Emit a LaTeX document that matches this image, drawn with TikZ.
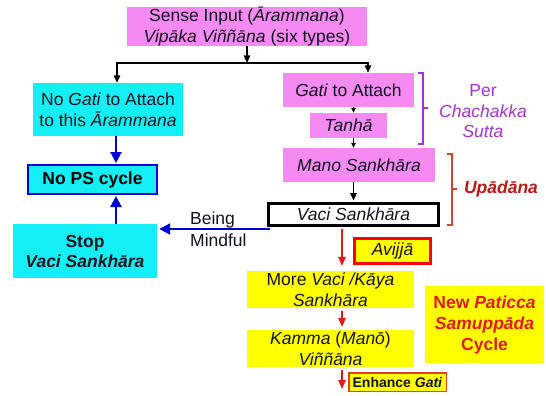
\documentclass[tikz,border=0pt]{standalone}
\usepackage{fontspec}
\setmainfont{Liberation Sans}
\usetikzlibrary{arrows.meta}
\definecolor{pinkbox}{RGB}{245,138,242}
\definecolor{cyanbox}{RGB}{20,238,245}
\definecolor{bluel}{RGB}{0,0,215}
\definecolor{yell}{RGB}{255,255,0}
\definecolor{redl}{RGB}{230,25,25}
\definecolor{purp}{RGB}{165,50,215}
\definecolor{darkred}{RGB}{190,25,20}
\definecolor{brk}{RGB}{205,70,50}
\definecolor{enh}{RGB}{215,70,30}
\definecolor{txt}{RGB}{20,20,30}
\begin{document}
\begin{tikzpicture}[x=1pt,y=-1pt,
  base/.style={inner sep=0pt, align=center, text=txt, font=\fontsize{17.5}{21}\selectfont},
  pbox/.style={base, fill=pinkbox},
  cbox/.style={base, fill=cyanbox},
  ybox/.style={base, fill=yell},
  barr/.style={-{Triangle[length=7.5pt,width=6.5pt]}, line width=1.1pt, black},
  sbarr/.style={-{Triangle[length=5pt,width=4.5pt]}, line width=0.9pt, black},
  blarr/.style={-{Triangle[length=11pt,width=11pt]}, line width=2pt, bluel},
  rarr/.style={-{Triangle[length=9pt,width=7.5pt]}, line width=1.5pt, redl},
]
\fill[white] (0,0) rectangle (546,396);
\useasboundingbox (0,0) rectangle (546,396);

% nodes
\node[pbox, minimum width=240pt, minimum height=37pt] (top) at (247,26.5)
  {Sense Input (\textit{Ārammana})\\\textit{Vipāka Viññāna} (six types)};
\node[cbox, minimum width=150pt, minimum height=53pt] (nogati) at (108,109.5)
  {No \textit{Gati} to Attach\\to this \textit{Ārammana}};
\node[cbox, draw=bluel, line width=2pt, minimum width=129pt, minimum height=29pt,
  font=\fontsize{17.5}{21}\selectfont\bfseries, text=black] (nops) at (92.5,179.5) {No PS cycle};
\node[cbox, minimum width=144pt, minimum height=54pt,
  font=\fontsize{17.5}{20}\selectfont\bfseries] (stop) at (85,251)
  {Stop\\\textit{Vaci Sankhāra}};
\node[pbox, minimum width=131pt, minimum height=34pt] (gati) at (348.5,90)
  {\textit{Gati} to Attach};
\node[pbox, minimum width=77pt, minimum height=25pt] (tanha) at (348.5,125.5)
  {\textit{Tanhā}};
\node[pbox, minimum width=152pt, minimum height=34pt] (mano) at (359,165)
  {\textit{Mano Sankhāra}};
\node[base, fill=white, draw=black, line width=3pt, minimum width=170pt, minimum height=22pt] (vaci) at (353.5,214.5)
  {\textit{Vaci Sankhāra}};
\node[ybox, draw=red, line width=3pt, minimum width=76pt, minimum height=25pt] (avijja) at (392.5,251)
  {\textit{Avijjā}};
\node[ybox, minimum width=167pt, minimum height=37pt] (more) at (330.5,289.5)
  {More \textit{Vaci /Kāya}\\\textit{Sankhāra}};
\node[ybox, minimum width=167pt, minimum height=37pt] (kamma) at (330.5,348.5)
  {\textit{Kamma} (\textit{Manō})\\\textit{Viññāna}};
\node[ybox, draw=enh, line width=1.5pt, minimum width=97.5pt, minimum height=18.5pt,
  font=\fontsize{14}{16}\selectfont\bfseries] (enhance) at (397.5,382)
  {Enhance \textit{Gati}};
\node[ybox, minimum width=119pt, minimum height=77pt, text=redl,
  font=\fontsize{17.5}{21}\selectfont\bfseries] (newps) at (484.5,324.5)
  {New \textit{Paticca}\\\textit{Samuppāda}\\Cycle};
\node[base, text=purp, font=\fontsize{17.5}{20.5}\selectfont] (per) at (483,111.5)
  {Per\\\textit{Chachakka}\\\textit{Sutta}};
\node[base, text=darkred, font=\fontsize{17.5}{21}\selectfont\bfseries\itshape] (upa) at (501,189)
  {Upādāna};
\node[base, anchor=west, align=left, font=\fontsize{17.5}{22}\selectfont] (mind) at (190,229)
  {Being\\Mindful};

% coordinates
\coordinate (hj) at (247,63);
\coordinate (bx) at (116,0);
\coordinate (rx) at (342,0);
\coordinate (re) at (342,389);
\coordinate (bm) at ([shift={(3pt,-2pt)}]vaci.south west);

% black arrows
\draw[barr] (top.south) -- (hj);
\draw[{Triangle[length=7.5pt,width=6.5pt]}-{Triangle[length=7.5pt,width=6.5pt]}, line width=1.1pt]
  ([xshift=9pt]nogati.north) |- (hj) -| ([xshift=19.5pt]gati.north);
\draw[sbarr] (gati.south -| vaci.north) -- (tanha.north -| vaci.north);
\draw[sbarr] (tanha.south -| vaci.north) -- (mano.north -| vaci.north);
\draw[barr, shorten >=1.5pt] (mano.south -| vaci.north) -- (vaci.north);

% blue arrows
\draw[blarr] (nogati.south -| bx) -- ([yshift=1pt]nops.north -| bx);
\draw[blarr] (stop.north -| bx) -- ([yshift=-1pt]nops.south -| bx);
\draw[blarr] (bm) -- ([xshift=2pt]stop.east |- bm);

% red arrows
\draw[rarr, shorten <=1.5pt, shorten >=5pt] (vaci.south -| rx) -- (more.north -| rx);
\draw[rarr, shorten <=3pt, shorten >=3pt] (more.south -| rx) -- (kamma.north -| rx);
\draw[rarr, shorten <=3pt] (kamma.south -| rx) -- (re);

% brackets
\draw[purp, line width=1.3pt] (418,73) -- (423,73) -- (423,144) -- (418,144);
\draw[purp, line width=1.3pt] (423,108) -- (428,108);
\draw[brk, line width=1.3pt] (447,154) -- (452,154) -- (452,225) -- (447,225);
\draw[brk, line width=1.3pt] (452,189) -- (457,189);
\end{tikzpicture}
\end{document}
